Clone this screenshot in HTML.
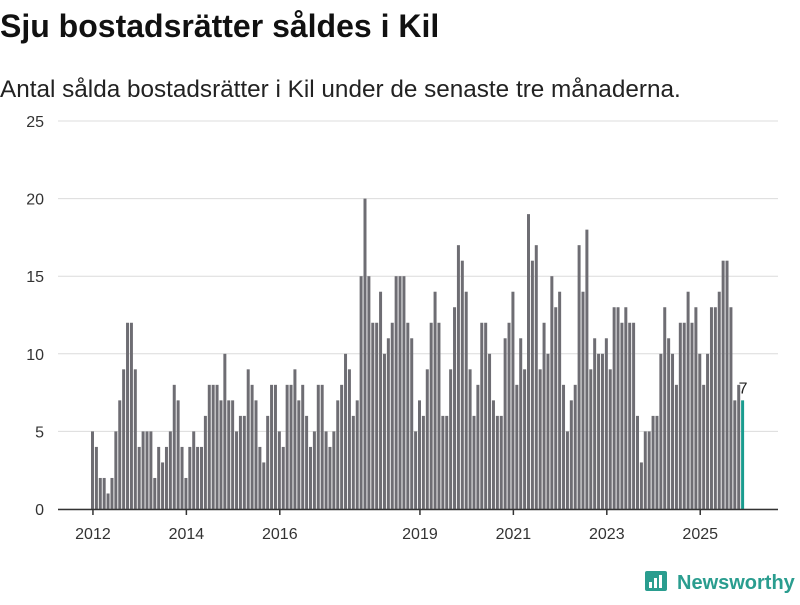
<!DOCTYPE html>
<html><head><meta charset="utf-8"><style>
body{margin:0;width:800px;height:600px;background:#fff;font-family:"Liberation Sans","DejaVu Sans",sans-serif;overflow:hidden}
</style></head><body>
<svg width="800" height="600" id="c">
<text x="0" y="37" font-size="32" font-weight="bold" fill="#111">Sju bostadsrätter såldes i Kil</text>
<text x="0" y="97" font-size="24.3" fill="#222">Antal sålda bostadsrätter i Kil under de senaste tre månaderna.</text>
<g id="grid"></g><g id="bars"></g><g id="xax"></g>
<g>
<rect x="645" y="571" width="22" height="20" rx="2" fill="#2a9d8f"/>
<rect x="649" y="582" width="3" height="6" fill="#fff"/><rect x="654" y="578" width="3" height="10" fill="#fff"/><rect x="659" y="575" width="3" height="13" fill="#fff"/>
<text x="677" y="589" font-size="20" font-weight="bold" fill="#2a9d8f">Newsworthy</text>
</g>
</svg>
<script>
const values=[5,4,2,2,1,2,5,7,9,12,12,9,4,5,5,5,2,4,3,4,5,8,7,4,2,4,5,4,4,6,8,8,8,7,10,7,7,5,6,6,9,8,
7,4,3,6,8,8,5,4,8,8,9,7,8,6,4,5,8,8,5,4,5,7,8,10,9,6,7,15,20,15,12,12,14,10,11,12,15,15,15,12,11,5,
7,6,9,12,14,12,6,6,9,13,17,16,14,9,6,8,12,12,10,7,6,6,11,12,14,8,11,9,19,16,17,9,12,10,15,13,14,8,5,7,8,
17,14,18,9,11,10,10,11,9,13,13,12,13,12,12,6,3,5,5,6,6,10,13,11,10,8,12,12,14,12,13,10,8,10,13,13,14,16,16,13,7,8,7];
const yTicks=[0,5,10,15,20,25];
const xTickYears=[2012,2014,2016,2019,2021,2023,2025];
const NS="http://www.w3.org/2000/svg";
const x0=91,x1=745,y0=509,yTop=121,yMax=25;
const step=(x1-x0)/values.length;
const y=v=>y0-(y0-yTop)*v/yMax;
const xi=i=>x0+i*step;
function mk(t,a,p){const e=document.createElementNS(NS,t);for(const k in a)e.setAttribute(k,a[k]);p.appendChild(e);return e;}
const grid=document.getElementById('grid');
yTicks.forEach(t=>{
 const l=mk('line',{x1:58,x2:778,y1:y(t),y2:y(t),stroke:'#dcdcdc','stroke-width':1},grid);
 
 
 const tx=mk('text',{x:44,y:y(t)+6,'font-size':16,fill:'#333','text-anchor':'end'},grid);
 tx.textContent=t;
 
 
});
const bars=document.getElementById('bars');
values.forEach((v,i)=>{
 const last=i===values.length-1;
 const r=mk('rect',{x:xi(i),y:y(v),width:step-0.9,height:y0-y(v),fill:last?'#1a9c8f':'#6e6d73'},bars);
 
 
 if(last){const t=mk('text',{x:xi(i)+step/2,y:y(v)-7,'font-size':16,fill:'#222','text-anchor':'middle'},bars);t.textContent=v;
 
 }
});
const xax=document.getElementById('xax');
const ax=mk('line',{x1:58,x2:778,y1:y0+0.5,y2:y0+0.5,stroke:'#333','stroke-width':1.5},xax);


xTickYears.forEach(yr=>{
 const xx=xi((yr-2012)*12)+step/2;
 const tk=mk('line',{x1:xx,x2:xx,y1:y0,y2:y0+6,stroke:'#333','stroke-width':1.5},xax);
 
 
 const t=mk('text',{x:xx,y:y0+30,'font-size':16,fill:'#333','text-anchor':'middle'},xax);
 t.textContent=yr;
 
 
});
</script>
</body></html>
